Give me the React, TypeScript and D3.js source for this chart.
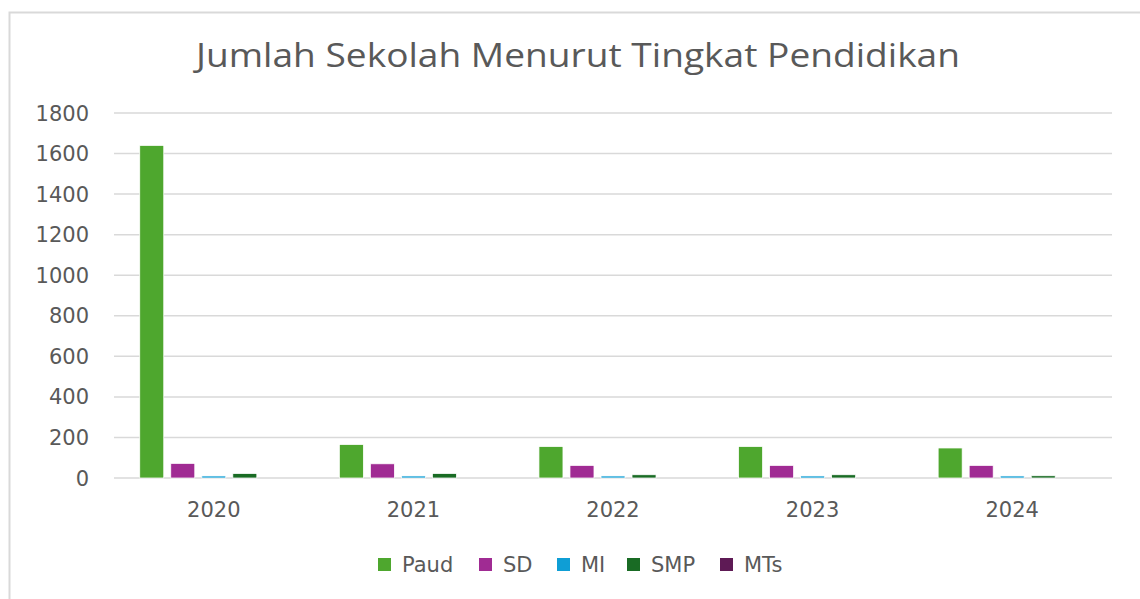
import * as d3 from "d3"
import { useLayoutEffect, useRef } from "react"

const years = ["2020", "2021", "2022", "2023", "2024"]
const seriesNames = ["Paud", "SD", "MI", "SMP", "MTs"]
const paud = [1640, 165, 155, 155, 148]
const sd = [72, 70, 62, 62, 62]
const mi = [10, 10, 10, 10, 10]
const smp = [22, 22, 16, 16, 11]
const mts = [0, 0, 0, 0, 0]
const yTicks = [0, 200, 400, 600, 800, 1000, 1200, 1400, 1600, 1800]
const colors = ["#4EA72E", "#A02B93", "#0F9ED5", "#196B24", "#5E1A55"]

const W = 1140
const H = 599

export default function App() {
  const ref = useRef<SVGSVGElement>(null)

  useLayoutEffect(() => {
    if (!ref.current) return
    const svg = d3.select(ref.current)
    svg.selectAll("*").remove()

    const values = [paud, sd, mi, smp, mts]
    const textColor = "#595959"
    const font = "'DejaVu Sans', sans-serif"

    // chart frame
    svg
      .append("rect")
      .attr("x", 9.5)
      .attr("y", 12.5)
      .attr("width", 1160)
      .attr("height", 620)
      .attr("fill", "#fff")
      .attr("stroke", "#d9d9d9")
      .attr("stroke-width", 2)

    svg
      .append("text")
      .attr("x", 578)
      .attr("y", 67)
      .attr("text-anchor", "middle")
      .attr("fill", textColor)
      .attr("textLength", 764)
      .attr("lengthAdjust", "spacingAndGlyphs")
      .style("font-family", "'Open Sans', sans-serif")
      .style("font-size", "32px")
      .text("Jumlah Sekolah Menurut Tingkat Pendidikan")

    const x = d3.scaleBand().domain(years).range([114, 1112]).padding(0)
    const inner = d3
      .scaleBand()
      .domain(seriesNames)
      .range([0, x.bandwidth()])
      .paddingInner(0.226)
      .paddingOuter(0.83)
    const y = d3.scaleLinear().domain([0, 1800]).range([478, 113])

    svg
      .append("g")
      .selectAll("line")
      .data(yTicks)
      .join("line")
      .attr("x1", 114)
      .attr("x2", 1112)
      .attr("y1", (d) => y(d))
      .attr("y2", (d) => y(d))
      .attr("stroke", "#d9d9d9")
      .attr("stroke-width", 1.5)

    svg
      .append("g")
      .selectAll("text")
      .data(yTicks)
      .join("text")
      .attr("x", 89)
      .attr("y", (d) => y(d))
      .attr("dy", "0.36em")
      .attr("text-anchor", "end")
      .attr("fill", textColor)
      .style("font-family", font)
      .style("font-size", "21px")
      .text((d) => String(d))

    seriesNames.forEach((name, si) => {
      svg
        .append("g")
        .selectAll("rect")
        .data(years)
        .join("rect")
        .attr("x", (yr) => x(yr)! + inner(name)!)
        .attr("width", inner.bandwidth())
        .attr("y", (_, i) => y(values[si][i]))
        .attr("height", (_, i) => y(0) - y(values[si][i]))
        .attr("fill", colors[si])
        .attr("stroke", "#fff")
        .attr("stroke-width", 0.75)
    })

    svg
      .append("g")
      .selectAll("text")
      .data(years)
      .join("text")
      .attr("x", (d) => x(d)! + x.bandwidth() / 2)
      .attr("y", 517)
      .attr("text-anchor", "middle")
      .attr("fill", textColor)
      .style("font-family", font)
      .style("font-size", "21px")
      .text((d) => d)

    const legendX = [378, 479, 557, 627, 720]
    const lg = svg
      .append("g")
      .selectAll("g")
      .data(seriesNames)
      .join("g")
      .attr("transform", (_, i) => `translate(${legendX[i]},558)`)
    lg.append("rect")
      .attr("width", 13)
      .attr("height", 13)
      .attr("fill", (_, i) => colors[i])
    lg.append("text")
      .attr("x", 24)
      .attr("y", 6.5)
      .attr("dy", "0.36em")
      .attr("fill", textColor)
      .style("font-family", font)
      .style("font-size", "21px")
      .text((d) => d)
  }, [])

  return (
    <svg
      ref={ref}
      width={W}
      height={H}
      style={{ position: "absolute", left: 0, top: 0, display: "block" }}
    />
  )
}
